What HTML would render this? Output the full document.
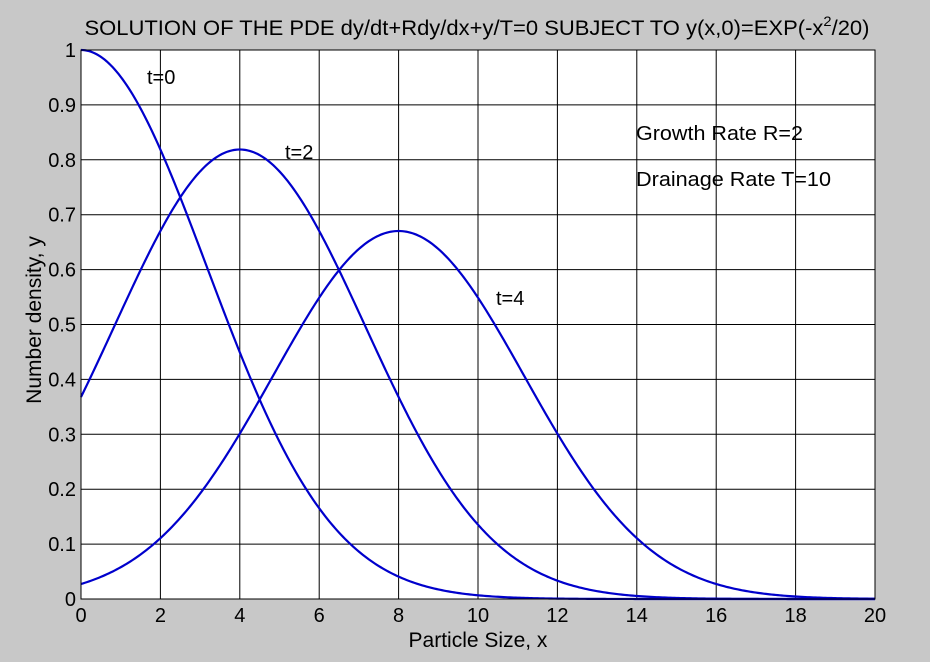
<!DOCTYPE html>
<html><head><style>
html,body{margin:0;padding:0;background:#c8c8c8;}
svg{display:block;font-family:"Liberation Sans",Arial,sans-serif;}
</style></head><body>
<svg id="s" width="930" height="662" viewBox="0 0 930 662" xmlns="http://www.w3.org/2000/svg">
<rect x="0" y="0" width="930" height="662" fill="#c8c8c8"/>
<rect x="81" y="50" width="794" height="549" fill="#fff"/>
<g id="grid" stroke="#000" stroke-width="1"></g>
<g id="labels" font-size="20" fill="#000"></g>
<g id="curves" fill="none" stroke="#0000cc" stroke-width="2.2"></g>
<rect x="81" y="50" width="794" height="549" fill="none" stroke="#000" stroke-width="1"/>
<text x="477" y="35" font-size="21" text-anchor="middle" textLength="785" lengthAdjust="spacingAndGlyphs">SOLUTION OF THE PDE dy/dt+Rdy/dx+y/T=0 SUBJECT TO y(x,0)=EXP(-x<tspan dy="-9" font-size="14">2</tspan><tspan dy="9">/20)</tspan></text>
<text x="478" y="647" font-size="21" text-anchor="middle">Particle Size, x</text>
<text transform="translate(41,320) rotate(-90)" font-size="21" text-anchor="middle">Number density, y</text>
<text x="147" y="84" font-size="20">t=0</text>
<text x="285" y="159" font-size="20">t=2</text>
<text x="496" y="305" font-size="20">t=4</text>
<text x="636" y="140" font-size="20" textLength="167" lengthAdjust="spacingAndGlyphs">Growth Rate R=2</text>
<text x="636" y="186" font-size="20" textLength="195" lengthAdjust="spacingAndGlyphs">Drainage Rate T=10</text>
</svg>
<script>
var L=81,R=875,T=50,B=599,NS="http://www.w3.org/2000/svg";
function X(x){return L+(R-L)*x/20}function Y(y){return B-(B-T)*y}
var g=document.getElementById('grid'),lb=document.getElementById('labels'),c=document.getElementById('curves');
function el(p,t,a){var e=document.createElementNS(NS,t);for(var k in a)e.setAttribute(k,a[k]);p.appendChild(e);return e}
for(var i=0;i<=10;i++){var x=X(i*2);el(g,'line',{x1:x,x2:x,y1:T,y2:B});var t=el(lb,'text',{x:x,y:622,'text-anchor':'middle'});t.textContent=i*2;}
for(var j=0;j<=10;j++){var y=Y(j/10);el(g,'line',{x1:L,x2:R,y1:y,y2:y});var t=el(lb,'text',{x:76,y:y+7,'text-anchor':'end'});t.textContent=j==0?'0':j==10?'1':(j/10).toString();}
[0,2,4].forEach(function(tt){var d='';for(var k=0;k<=400;k++){var x=k*0.05;var v=Math.exp(-Math.pow(x-2*tt,2)/20)*Math.exp(-tt/10);d+=(k?'L':'M')+X(x).toFixed(2)+' '+Y(v).toFixed(2);}el(c,'path',{d:d});});
</script>
</body></html>
